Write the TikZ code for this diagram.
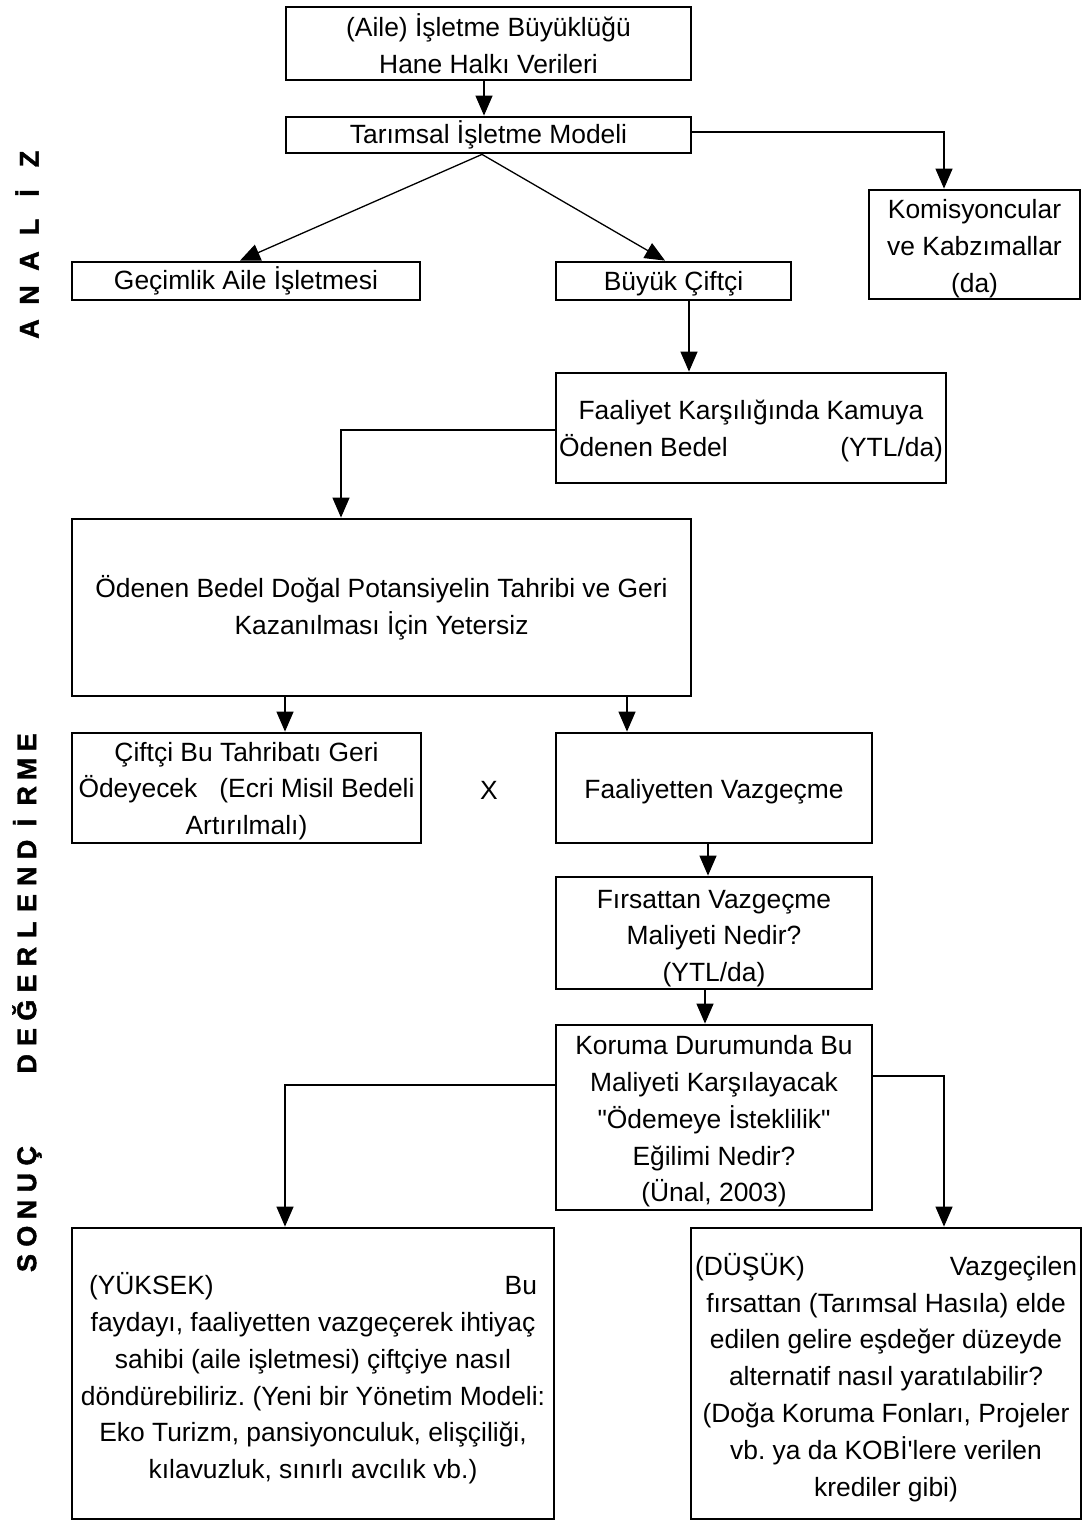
\documentclass[tikz,border=0pt]{standalone}
\usepackage{fontspec}
\setmainfont{Liberation Sans}[Ligatures=TeXOff]
\newfontfamily\sidefont{Liberation Sans Bold}[FakeBold=1.5]
\usetikzlibrary{arrows.meta,calc}
\newcommand\fs{\fontsize{13.2}{18.4}\selectfont}
\newcommand\sideletter[2]{\makebox[#1]{#2}}
\newcommand\lift[1]{\rule{0pt}{#1}}
\frenchspacing
\begin{document}
\begin{tikzpicture}[x=0.5pt,y=-0.5pt,
  box/.style={draw, line width=1.4pt, align=center, inner sep=0pt, font=\fs},
  conn/.style={line width=0.65pt},
  arr/.style={conn, -{Triangle[length=10pt,width=8.5pt]}},
  sidelabel/.style={rotate=90, inner sep=0pt, font=\sidefont\fontsize{13.5}{13.5}\selectfont},
]
\fill[white] (0,0) rectangle (1083,1521);
\useasboundingbox (0,0) rectangle (1083,1521);

% boxes
\node[box, minimum width=202.5pt, minimum height=36.5pt] (b1) at (488.5,43.5)
  {(Aile) İşletme Büyüklüğü\\Hane Halkı Verileri};
\node[box, minimum width=202.5pt, minimum height=18pt] (b2) at (488.5,135)
  {Tarımsal İşletme Modeli};
\node[box, minimum width=105.5pt, minimum height=54.5pt] (kom) at (974.5,244.5)
  {\lift{13.6pt}Komisyoncular\\ve Kabzımallar\\(da)};
\node[box, minimum width=174pt, minimum height=19pt] (gec) at (246,281)
  {Geçimlik Aile İşletmesi};
\node[box, minimum width=117.5pt, minimum height=19pt] (buy) at (673.5,281)
  {\lift{12pt}Büyük Çiftçi};
\node[box, minimum width=195pt, minimum height=55pt] (faal) at (751,428)
  {\lift{12.6pt}Faaliyet Karşılığında Kamuya\\\makebox[192pt]{Ödenen Bedel\hfill(YTL/da)}};
\node[box, minimum width=309.5pt, minimum height=88.5pt] (oden) at (381.5,607.5)
  {Ödenen Bedel Doğal Potansiyelin Tahribi ve Geri\\Kazanılması İçin Yetersiz};
\node[box, minimum width=174.5pt, minimum height=55pt] (cift) at (246.5,788)
  {\lift{12.6pt}Çiftçi Bu Tahribatı Geri\\\makebox[168pt]{Ödeyecek\hfill(Ecri Misil Bedeli}\\Artırılmalı)};
\node[box, minimum width=158pt, minimum height=55pt] (vaz) at (714,788)
  {\lift{13pt}Faaliyetten Vazgeçme};
\node[box, minimum width=158pt, minimum height=56pt] (firs) at (714,933)
  {\lift{14.6pt}Fırsattan Vazgeçme\\Maliyeti Nedir?\\(YTL/da)};
\node[box, minimum width=158pt, minimum height=92.5pt] (kor) at (714,1117.5)
  {\lift{13.6pt}Koruma Durumunda Bu\\Maliyeti Karşılayacak\\"Ödemeye İsteklilik"\\Eğilimi Nedir?\\(Ünal, 2003)};
\node[box, minimum width=241pt, minimum height=145.5pt] (yuk) at (313,1373.5)
  {\lift{16pt}\makebox[224pt]{(YÜKSEK)\hfill Bu}\\faydayı, faaliyetten vazgeçerek ihtiyaç\\sahibi (aile işletmesi) çiftçiye nasıl\\döndürebiliriz. (Yeni bir Yönetim Modeli:\\Eko Turizm, pansiyonculuk, elişçiliği,\\kılavuzluk, sınırlı avcılık vb.)};
\node[box, minimum width=195pt, minimum height=145.5pt] (dus) at (886,1373.5)
  {\lift{15pt}\makebox[191pt]{(DÜŞÜK)\hfill Vazgeçilen}\\fırsattan (Tarımsal Hasıla) elde\\edilen gelire eşdeğer düzeyde\\alternatif nasıl yaratılabilir?\\(Doğa Koruma Fonları, Projeler\\vb. ya da KOBİ'lere verilen\\krediler gibi)};

\node[font=\fs, inner sep=0pt] (xmark) at (489,790) {X};

% side labels
\node[sidelabel] (analiz) at (27,244)
  {\sideletter{17pt}{A}\sideletter{17pt}{N}\sideletter{17pt}{A}\sideletter{17pt}{L}\sideletter{17pt}{İ}\sideletter{17pt}{Z}};
\node[sidelabel] (sonuc) at (27,1002.6)
  {\sideletter{13.4pt}{S}\sideletter{13.4pt}{O}\sideletter{13.4pt}{N}\sideletter{13.4pt}{U}\sideletter{13.4pt}{Ç}\hspace{32.6pt}\sideletter{13.4pt}{D}\sideletter{13.4pt}{E}\sideletter{13.4pt}{Ğ}\sideletter{13.4pt}{E}\sideletter{13.4pt}{R}\sideletter{13.4pt}{L}\sideletter{13.4pt}{E}\sideletter{13.4pt}{N}\sideletter{13.4pt}{D}\sideletter{13.4pt}{İ}\sideletter{13.4pt}{R}\sideletter{13.4pt}{M}\sideletter{13.4pt}{E}};

% connectors
\draw[arr] ([xshift=-2.25pt]b1.south) -- ([xshift=-2.25pt]b2.north);
\draw[arr] ([yshift=1.5pt]b2.east) -| ([xshift=-15.25pt]kom.north);
\draw[arr] ([xshift=-3.25pt]b2.south) -- ([xshift=-3pt]gec.north);
\draw[arr] ([xshift=-3.25pt]b2.south) -- ([xshift=-4.25pt]buy.north);
\draw[arr] ([xshift=7.75pt]buy.south) -- ([xshift=7.75pt]buy.south |- faal.north);
\draw[arr] ([yshift=-1pt]faal.west) -| ([xshift=-20.25pt]oden.north);
\draw[arr] ([xshift=19.25pt]cift.north |- oden.south) -- ([xshift=19.25pt]cift.north);
\draw[arr] ([xshift=-43.5pt]vaz.north |- oden.south) -- ([xshift=-43.5pt]vaz.north);
\draw[arr] ([xshift=-3pt]vaz.south) -- ([xshift=-3pt]firs.north);
\draw[arr] ([xshift=-4.5pt]firs.south) -- ([xshift=-4.5pt]kor.north);
\draw[arr] ([yshift=16.25pt]kor.west) -| ([xshift=-14pt]yuk.north);
\draw[arr] ([yshift=20.75pt]kor.east) -| ([xshift=29pt]dus.north);
\end{tikzpicture}
\end{document}
